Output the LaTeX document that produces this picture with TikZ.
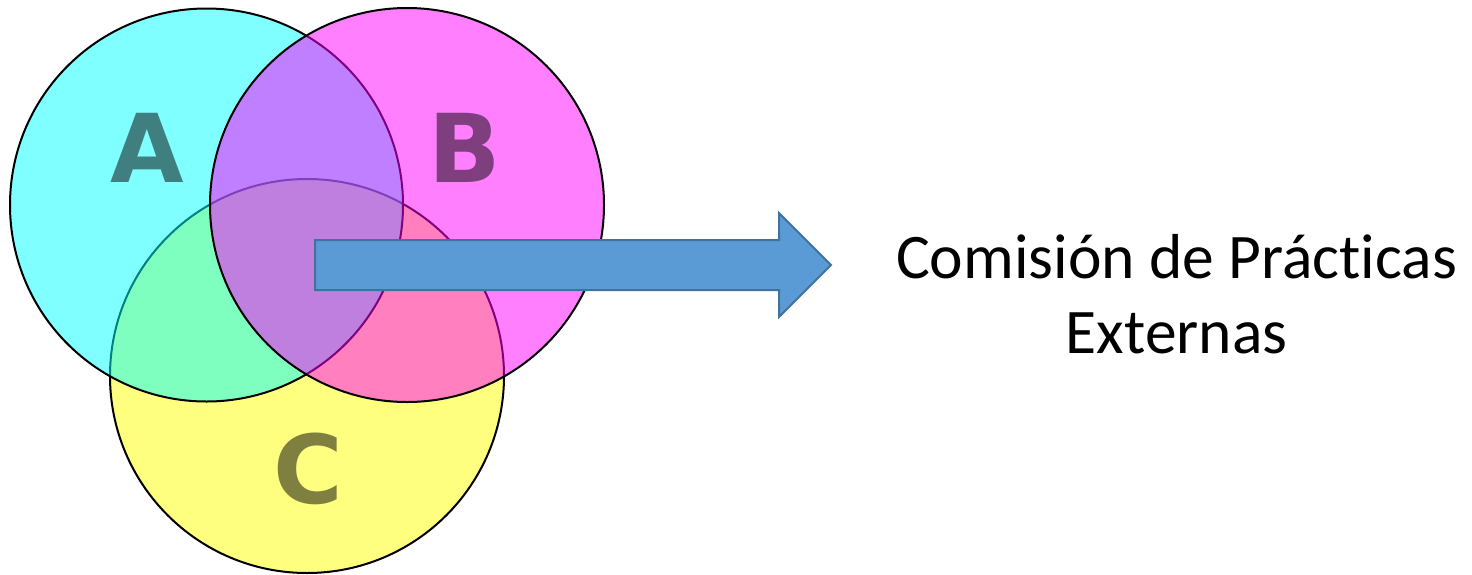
\documentclass[tikz,border=0pt]{standalone}
\usepackage{fontspec}
\setmainfont{Carlito}[Ligatures={NoCommon}]
\newfontfamily\letterfont{DejaVu Sans}
\definecolor{arrowfill}{HTML}{5B9BD5}
\definecolor{arrowline}{HTML}{41719C}
\definecolor{vcyan}{RGB}{0,255,255}
\definecolor{vmagenta}{RGB}{255,0,255}
\definecolor{vyellow}{RGB}{255,255,0}
\begin{document}
\begin{tikzpicture}[x=1pt,y=-1pt,
  venn/.style={draw=black,line width=2pt,fill opacity=0.5},
  lbl/.style={text=black,text opacity=0.5,font=\letterfont\bfseries\fontsize{95}{95}\selectfont,anchor=base,inner sep=0pt},
  caption/.style={font=\fontsize{63.5}{75}\selectfont,anchor=base,inner sep=0pt}]
\useasboundingbox (0,0) rectangle (1472,574);
\filldraw[venn,fill=vyellow] (307,376) circle[radius=197pt];
\filldraw[venn,fill=vcyan] (206.5,205) circle[radius=196.5pt];
\filldraw[venn,fill=vmagenta] (407,205) circle[radius=197pt];
\node[lbl] (la) at (147.5,182) {A};
\node[lbl] (lb) at (465,182) {B};
\node[lbl] (lc) at (308,503) {C};
\draw[fill=arrowfill,draw=arrowline,line width=2pt,line join=miter]
  (315,240) -- (779,240) -- (779,213) -- (831,265) -- (779,317) -- (779,290) -- (315,290) -- cycle;
\node[caption] (t1) at (1176.5,278) {Comisión de Prácticas};
\node[caption] (t2) at (1176.5,353) {Externas};
\end{tikzpicture}
\end{document}
